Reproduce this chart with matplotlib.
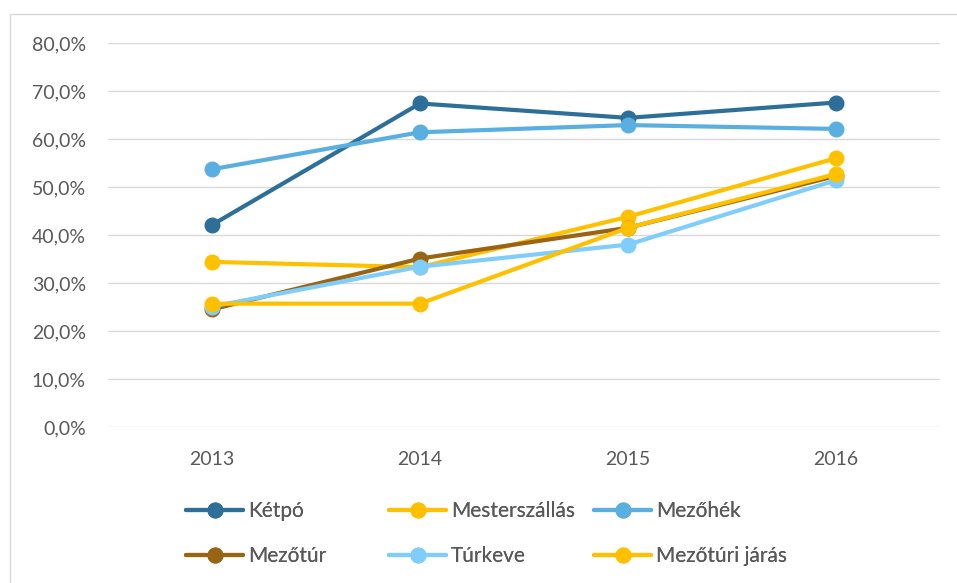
import matplotlib.pyplot as plt
from matplotlib.patches import Rectangle
from matplotlib.ticker import FuncFormatter

plt.rcParams['font.family'] = ['Lato', 'DejaVu Sans']

years = ['2013', '2014', '2015', '2016']

# values in percent
ketpo = [42.1, 67.4, 64.4, 67.6]
mesterszallas = [34.4, 33.3, 43.8, 56.0]
mezohek = [53.7, 61.4, 62.9, 62.1]
mezotur = [24.5, 35.1, 41.5, 52.3]
turkeve = [25.1, 33.4, 38.0, 51.4]
mezoturi_jaras = [25.7, 25.7, 41.5, 52.7]

series = [
    ('Kétpó', ketpo, '#2D6F98'),
    ('Mesterszállás', mesterszallas, '#FFC000'),
    ('Mezőhék', mezohek, '#5AAFE1'),
    ('Mezőtúr', mezotur, '#996515'),
    ('Túrkeve', turkeve, '#7FCDFA'),
    ('Mezőtúri járás', mezoturi_jaras, '#FFC000'),
]

W, H = 957, 583
fig = plt.figure(figsize=(W / 100, H / 100), dpi=100)
fig.patch.set_facecolor('white')

# chart border (Excel chart area)
fig.add_artist(Rectangle((10 / W, -0.1), 1.2, 1 - 14 / H + 0.1,
                         transform=fig.transFigure, fill=False,
                         edgecolor='#D9D9D9', linewidth=1.0))

ax = fig.add_axes([108 / W, (H - 427) / H, (940 - 108) / W, (427 - 43) / H])

lines = []
x = range(len(years))
for name, vals, col in series:
    ln, = ax.plot(x, vals, color=col, linewidth=3.0, marker='o',
                  markersize=10.5, solid_capstyle='round', label=name)
    lines.append(ln)

ax.set_xlim(-0.5, 3.5)
ax.set_ylim(0, 80)
ax.set_yticks(range(0, 81, 10))
ax.yaxis.set_major_formatter(FuncFormatter(lambda v, p: f"{v:.1f}%".replace('.', ',')))
ax.set_xticks(list(x))
ax.set_xticklabels(years)

ax.grid(True, axis='y', color='#D9D9D9', linewidth=1.0)
ax.set_axisbelow(True)
for s in ax.spines.values():
    s.set_visible(False)
ax.tick_params(axis='both', length=0, labelsize=14, colors='#595959')
ax.tick_params(axis='y', pad=16)
ax.tick_params(axis='x', pad=17)

# legend: three columns at fixed Excel-like positions
cols = [(0, 3), (1, 4), (2, 5)]
xs = [186, 389, 594]
for (a, b), xp in zip(cols, xs):
    leg = fig.legend([lines[a], lines[b]], [series[a][0], series[b][0]],
                     loc='center left', bbox_to_anchor=(xp / W, 1 - 533.5 / H),
                     frameon=False, fontsize=15, labelcolor='#595959',
                     handlelength=2.75, handletextpad=0.22, labelspacing=1.2,
                     borderpad=0, borderaxespad=0)
    fig.add_artist(leg)

fig.savefig('out.png', dpi=100, facecolor='white')
